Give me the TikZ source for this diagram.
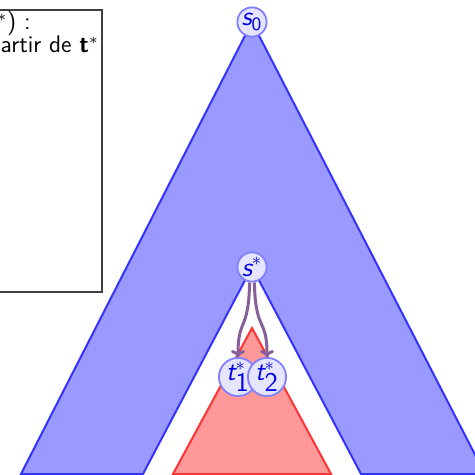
\documentclass[tikz,border=0pt]{standalone}
\usepackage{fontspec}
\usetikzlibrary{arrows.meta}
\definecolor{arrcol}{RGB}{135,95,155}
\begin{document}
\begin{tikzpicture}[x=0.5pt,y=-0.5pt,font=\sffamily\fontsize{12}{14}\selectfont,
  state/.style={circle,draw=blue!50,fill=blue!10,text=blue!90!black,
    line width=0.9pt,minimum size=14.6pt,inner sep=0pt,font=\sffamily\fontsize{13.5}{15}\selectfont},
  bluearea/.style={draw=blue!80,fill=blue!40,line width=1pt,line join=miter},
  redarea/.style={draw=red!80,fill=red!40,line width=1pt},
  arr/.style={draw=arrcol,line width=1.5pt,-{To[length=3.5pt,width=7pt]}},
  panel/.style={draw=black!75,line width=0.8pt,inner sep=0pt}]
\useasboundingbox (0,0) rectangle (475,475);
% text panel
\node[panel,anchor=north east,minimum width=90pt,minimum height=141pt] (panel) at (102.5,9) {};
\node[anchor=base east,inner sep=0pt] (l1) at (31,30) {$^*$) :};
\node[anchor=base east,inner sep=0pt] (l2) at (99,53) {artir de \textbf{t}$^*$};
% areas
\path[bluearea] (252,22) -- (21,474) -- (143,474) -- (252,267) -- (361,474) -- (485,474) -- cycle;
\path[redarea] (252,328) -- (173,474) -- (331,474) -- cycle;
% nodes
\node[state] (s0) at (252,22) {{\itshape s}\textsubscript{0}};
\node[state] (s) at (252,267) {{\itshape s}$^{*}$};
\node[state] (t1) at (238,377) {{\itshape t}$^{*}_{\textsf{1}}$};
\node[state] (t2) at (267,377) {{\itshape t}$^{*}_{\textsf{2}}$};
% connectors
\draw[arr] ([xshift=-1.2pt]s.south) .. controls +(-1,50) and +(0,-40) .. (t1.north);
\draw[arr] ([xshift=1.2pt]s.south) .. controls +(1,50) and +(0,-40) .. (t2.north);
\end{tikzpicture}
\end{document}
